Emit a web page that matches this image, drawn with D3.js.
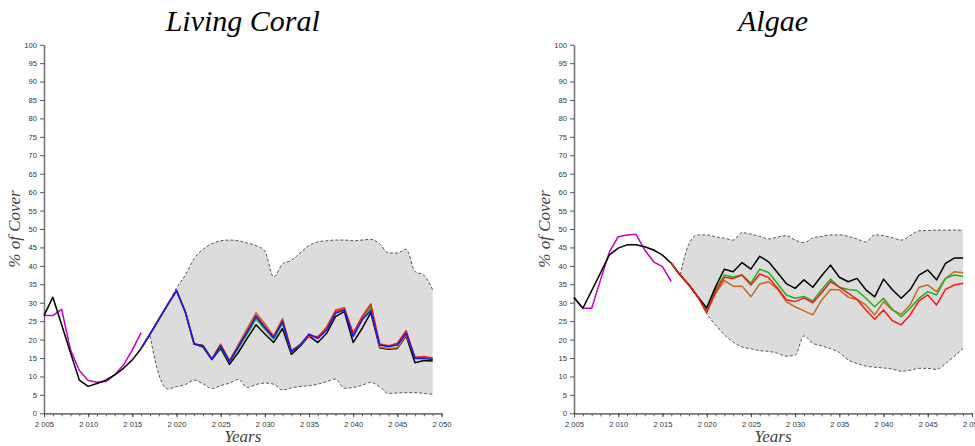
<!DOCTYPE html>
<html>
<head>
<meta charset="utf-8">
<script src="https://cdn.jsdelivr.net/npm/d3@7"></script>
<style>
  html, body { margin: 0; padding: 0; background: #fff; }
  svg { display: block; }
</style>
</head>
<body>
<svg id="chart" width="975" height="446"></svg>
<script>
// ---------- DATA ----------
const histYears = [2005, 2006, 2007, 2008, 2009, 2010, 2011, 2012, 2013, 2014, 2015, 2016];
const projYears = [2016, 2017, 2018, 2019, 2020, 2021, 2022, 2023, 2024, 2025, 2026, 2027, 2028, 2029, 2030, 2031, 2032,
  2033, 2034, 2035, 2036, 2037, 2038, 2039, 2040, 2041, 2042, 2043, 2044, 2045, 2046, 2047, 2048, 2049];
const bandYears = [2017, 2018, 2019, 2020, 2021, 2022, 2023, 2024, 2025, 2026, 2027, 2028, 2029, 2030, 2031, 2032,
  2033, 2034, 2035, 2036, 2037, 2038, 2039, 2040, 2041, 2042, 2043, 2044, 2045, 2046, 2047, 2048, 2049];

const yTickValues = [0, 5, 10, 15, 20, 25, 30, 35, 40, 45, 50, 55, 60, 65, 70, 75, 80, 85, 90, 95, 100];
const xMajorTicks = [2005, 2010, 2015, 2020, 2025, 2030, 2035, 2040, 2045, 2050];
const xMinorTicks = [2005, 2006, 2007, 2008, 2009, 2010, 2011, 2012, 2013, 2014, 2015, 2016, 2017, 2018, 2019, 2020,
  2021, 2022, 2023, 2024, 2025, 2026, 2027, 2028, 2029, 2030, 2031, 2032, 2033, 2034, 2035, 2036, 2037, 2038,
  2039, 2040, 2041, 2042, 2043, 2044, 2045, 2046, 2047, 2048, 2049, 2050];

const titles = ["Living Coral", "Algae"];
const yLabel = "% of Cover";
const xLabel = "Years";

// Living coral
const coralObsBlack   = [26.5, 31.5, 24.0, 16.4, 9.0, 7.3, 8.1, 9.0, 10.4, 12.2, 14.5, 17.6];
const coralObsMagenta = [26.5, 26.5, 28.2, 17.2, 11.6, 8.9, 8.4, 8.6, 10.4, 13.1, 17.2, 21.9];
const coralBlack  = [17.6, 21.5, 25.5, 29.5, 33.3, 27.5, 18.8, 18.0, 14.6, 17.6, 13.3, 16.5, 20.3, 24.0, 21.5, 19.2, 23.0,
  16.0, 18.2, 21.0, 19.2, 21.7, 26.2, 27.6, 19.2, 23.0, 27.3, 17.8, 17.4, 17.6, 21.0, 13.7, 14.3, 14.2];
const coralOrange = [17.6, 21.5, 25.5, 29.5, 33.3, 27.5, 18.8, 18.4, 14.8, 18.8, 14.3, 18.7, 23.0, 27.3, 24.3, 21.0, 25.7,
  17.0, 18.7, 21.3, 20.6, 23.5, 28.0, 28.7, 21.2, 25.6, 28.5, 18.0, 17.6, 17.8, 21.2, 15.3, 15.3, 14.8];
const coralGreen  = [17.6, 21.5, 25.5, 29.5, 33.3, 27.5, 18.8, 18.2, 14.6, 18.0, 13.9, 17.6, 21.5, 25.6, 22.8, 20.1, 24.4,
  16.6, 18.4, 21.2, 20.6, 23.0, 27.4, 28.2, 21.4, 25.8, 29.0, 18.7, 18.2, 18.7, 21.9, 15.0, 15.2, 14.8];
const coralRed    = [17.6, 21.5, 25.5, 29.5, 33.3, 27.5, 18.8, 18.4, 14.7, 18.5, 14.2, 18.2, 22.3, 26.6, 23.6, 20.7, 25.2,
  16.9, 18.6, 21.0, 20.8, 23.0, 27.6, 28.4, 21.7, 26.2, 29.7, 18.8, 18.3, 19.0, 22.4, 15.1, 15.4, 15.0];
const coralBlue   = [17.6, 21.5, 25.5, 29.5, 33.3, 27.5, 18.8, 18.3, 14.6, 18.3, 14.0, 18.0, 22.0, 26.2, 23.3, 20.5, 24.9,
  16.7, 18.5, 21.5, 20.3, 22.6, 27.1, 28.0, 20.8, 25.3, 27.8, 18.5, 18.1, 18.5, 21.7, 14.9, 14.9, 14.5];
const coralUpper  = [21.5, 25.5, 29.5, 34.0, 37.5, 42.0, 44.5, 46.0, 46.8, 47.0, 46.8, 46.2, 45.5, 44.0, 37.0, 40.5,
  41.5, 43.5, 45.5, 46.5, 46.8, 47.0, 47.0, 46.8, 47.0, 47.2, 46.0, 43.5, 43.5, 44.5, 38.5, 37.5, 33.5];
const coralLower  = [21.0, 10.5, 6.6, 7.2, 7.8, 9.0, 8.0, 6.7, 7.5, 8.2, 9.2, 7.0, 7.8, 8.2, 7.9, 6.3,
  6.9, 7.3, 7.5, 7.9, 8.6, 9.3, 6.8, 7.0, 7.6, 8.4, 7.2, 5.4, 5.5, 5.6, 5.6, 5.4, 5.2];

// Algae
const algaeObsBlack   = [31.4, 28.5, 33.3, 38.1, 43.0, 44.8, 45.7, 45.7, 45.2, 44.3, 42.9, 40.7];
const algaeObsMagenta = [31.4, 28.5, 28.5, 36.2, 43.8, 47.9, 48.4, 48.6, 44.3, 41.1, 39.8, 35.7];
const algaeBlack  = [40.7, 37.5, 34.8, 31.6, 28.6, 34.3, 39.1, 38.4, 40.9, 39.1, 42.6, 41.1, 38.2, 35.2, 33.9, 36.2, 34.2,
  37.3, 40.2, 36.9, 35.7, 36.6, 33.5, 31.6, 36.4, 33.5, 31.2, 33.5, 37.5, 38.9, 36.2, 40.7, 42.1, 42.1];
const algaeOrange = [40.7, 37.5, 34.8, 31.6, 27.6, 32.5, 36.0, 34.5, 34.5, 31.6, 35.1, 35.7, 33.7, 30.3, 28.9, 27.8, 26.7,
  30.7, 33.6, 33.5, 31.5, 30.9, 29.4, 26.7, 30.3, 28.0, 26.9, 29.4, 34.2, 34.8, 33.0, 36.6, 38.4, 38.1];
const algaeGreen  = [40.7, 37.5, 34.8, 31.6, 28.0, 33.5, 37.5, 37.0, 37.5, 35.3, 39.1, 38.2, 35.2, 32.1, 31.2, 31.7, 30.5,
  33.5, 36.4, 34.2, 33.6, 33.3, 31.2, 28.9, 31.2, 28.2, 26.2, 28.5, 31.2, 33.0, 32.1, 36.6, 37.5, 37.1];
const algaeRed    = [40.7, 37.5, 34.8, 31.6, 27.3, 33.0, 36.9, 36.6, 37.5, 34.8, 37.8, 36.8, 34.0, 30.8, 30.3, 31.3, 30.0,
  32.7, 35.7, 34.2, 32.6, 30.9, 28.0, 25.5, 28.0, 25.1, 24.0, 26.7, 30.5, 32.1, 29.4, 33.6, 34.8, 35.3];
const algaeUpper  = [37.5, 46.0, 48.4, 48.4, 47.9, 47.5, 47.0, 49.0, 48.6, 48.0, 47.3, 47.8, 48.2, 47.0, 46.3, 47.6,
  48.0, 48.4, 48.4, 48.0, 47.3, 46.5, 48.4, 48.2, 47.6, 47.0, 48.2, 49.5, 49.6, 49.7, 49.7, 49.7, 49.7];
const algaeLower  = [37.5, 34.8, 31.6, 27.0, 24.0, 21.3, 19.3, 18.0, 17.5, 17.0, 16.8, 16.3, 15.5, 15.8, 21.0, 19.0,
  18.3, 17.5, 16.5, 14.5, 13.5, 12.8, 12.5, 12.3, 12.0, 11.4, 11.7, 12.2, 12.2, 11.9, 13.5, 15.5, 17.6];

const COLORS = { black: "#000000", magenta: "#c400c4", orange: "#c8691e", green: "#1cb41c", red: "#ff1414", blue: "#1414ff" };

// ---------- DRAW ----------
const svg = d3.select("#chart");
const fmtYear = d => { const s = String(d); return s.slice(0, 1) + " " + s.slice(1); };

function panel(cfg) {
  const x = d3.scaleLinear().domain([2005, 2050]).range(cfg.xRange);
  const y = d3.scaleLinear().domain([0, 100]).range([413.3, 44.7]);
  const g = svg.append("g");

  // band
  const bandData = bandYears.map((yr, i) => ({ yr, lo: cfg.lower[i], hi: cfg.upper[i] }));
  const curve = d3.curveMonotoneX;
  g.append("path").datum(bandData)
    .attr("d", d3.area().x(d => x(d.yr)).y0(d => y(d.lo)).y1(d => y(d.hi)).curve(curve))
    .attr("fill", "#dcdcdc");
  ["hi", "lo"].forEach(k => {
    g.append("path").datum(bandData)
      .attr("d", d3.line().x(d => x(d.yr)).y(d => y(d[k])).curve(curve))
      .attr("fill", "none").attr("stroke", "#555").attr("stroke-width", 1)
      .attr("stroke-dasharray", "3,2");
  });

  // axes
  const yAxis = d3.axisLeft(y).tickValues(yTickValues).tickSize(4).tickSizeOuter(0).tickPadding(3);
  const ya = g.append("g").attr("transform", `translate(${x(2005)},0)`).call(yAxis);
  const xMinor = d3.axisBottom(x).tickValues(xMinorTicks).tickSize(3).tickSizeOuter(0).tickFormat("");
  const xa0 = g.append("g").attr("transform", `translate(0,${y(0)})`).call(xMinor);
  const xAxis = d3.axisBottom(x).tickValues(xMajorTicks).tickSize(4).tickSizeOuter(0).tickPadding(4).tickFormat(fmtYear);
  const xa = g.append("g").attr("transform", `translate(0,${y(0)})`).call(xAxis);
  [ya, xa, xa0].forEach(a => {
    a.select(".domain").attr("stroke", "#777").attr("stroke-width", 1.6);
    a.selectAll(".tick line").attr("stroke", "#444").attr("stroke-width", 0.9);
    a.selectAll("text").attr("font-family", "'Liberation Sans', Arial, sans-serif")
      .attr("font-size", 7.6).attr("fill", "#333");
  });

  // lines
  const line = d3.line().x(d => x(d[0])).y(d => y(d[1]));
  const draw = (years, vals, color, w) => g.append("path")
    .datum(years.map((yr, i) => [yr, vals[i]]))
    .attr("d", line).attr("fill", "none").attr("stroke", color)
    .attr("stroke-width", w || 1.5).attr("stroke-linejoin", "round");

  draw(histYears, cfg.obsMagenta, COLORS.magenta);
  draw(histYears, cfg.obsBlack, COLORS.black);
  cfg.proj.forEach(p => draw(projYears, p[0], p[1]));

  // texts
  const cx = (cfg.xRange[0] + cfg.xRange[1]) / 2;
  svg.append("text").attr("x", cx).attr("y", 31).attr("text-anchor", "middle")
    .attr("font-family", "'Liberation Serif', 'DejaVu Serif', serif").attr("font-style", "italic")
    .attr("font-size", 30).attr("fill", "#000").text(cfg.title);
  svg.append("text").attr("x", cx).attr("y", 442).attr("text-anchor", "middle")
    .attr("font-family", "'Liberation Serif', 'DejaVu Serif', serif").attr("font-style", "italic")
    .attr("font-size", 17).attr("fill", "#444").text(xLabel);
  svg.append("text").attr("transform", `translate(${cfg.yLabelX},229) rotate(-90)`).attr("text-anchor", "middle")
    .attr("font-family", "'Liberation Serif', 'DejaVu Serif', serif").attr("font-style", "italic")
    .attr("font-size", 17).attr("fill", "#444").text(yLabel);
}

panel({
  title: titles[0], xRange: [44, 441.5], yLabelX: 20,
  upper: coralUpper, lower: coralLower,
  obsBlack: coralObsBlack, obsMagenta: coralObsMagenta,
  proj: [[coralBlack, COLORS.black], [coralOrange, COLORS.orange], [coralGreen, COLORS.green],
         [coralRed, COLORS.red], [coralBlue, COLORS.blue]]
});
panel({
  title: titles[1], xRange: [574, 972], yLabelX: 550,
  upper: algaeUpper, lower: algaeLower,
  obsBlack: algaeObsBlack, obsMagenta: algaeObsMagenta,
  proj: [[algaeOrange, COLORS.orange], [algaeGreen, COLORS.green], [algaeBlack, COLORS.black],
         [algaeRed, COLORS.red]]
});
</script>
</body>
</html>
